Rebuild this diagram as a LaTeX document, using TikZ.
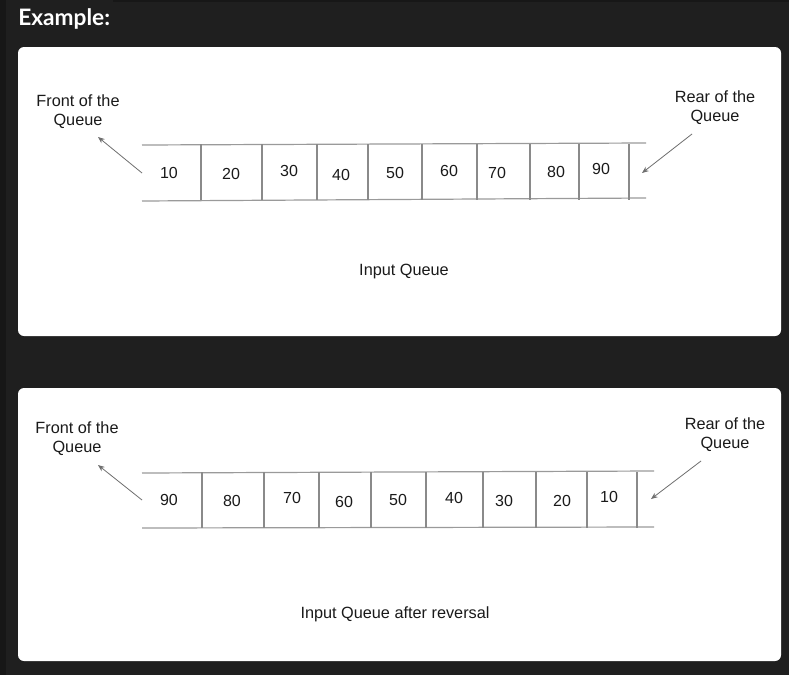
\documentclass[tikz,border=0pt]{standalone}
\usepackage{fontspec}
\setmainfont{Liberation Sans}
\newfontfamily\headfont{Lato}
\usetikzlibrary{arrows.meta}
\definecolor{bgdark}{HTML}{1F1F1F}
\definecolor{bgdarker}{HTML}{171717}
\definecolor{qline}{HTML}{9A9A9A}
\definecolor{qdiv}{HTML}{8A8A8A}
\definecolor{arrowgray}{HTML}{6E6E6E}
\definecolor{txt}{HTML}{1A1A1A}
\tikzset{
  card/.style={fill=white, draw=none, rounded corners=4.5pt},
  qedge/.style={draw=qline, line width=0.9pt},
  qdivider/.style={draw=qdiv, line width=0.9pt},
  num/.style={text=txt, font=\fontsize{12pt}{13pt}\selectfont, inner sep=0pt},
  lab/.style={text=txt, font=\fontsize{12.2pt}{14.4pt}\selectfont, align=center, inner sep=0pt},
  ptr/.style={draw=arrowgray, line width=0.6pt, -{Stealth[length=5pt,width=4pt]}},
}
\begin{document}
\begin{tikzpicture}[x=0.75pt,y=-0.75pt]
\useasboundingbox (0,0) rectangle (789,675);
% background
\fill[bgdark] (0,0) rectangle (789,675);
\fill[bgdarker] (0,0) rectangle (6,675);
\fill[bgdarker] (113,0) rectangle (789,2);
% heading
\node[anchor=base west, inner sep=0pt, text=white, font=\headfont\bfseries\fontsize{17pt}{19pt}\selectfont] (title) at (18,25.5) {Example:};
% cards
\path[card] (18,47) rectangle (781,336);
\path[card] (18,388) rectangle (781,661);

% ---------- top queue ----------
\coordinate (t1l) at (142,145); \coordinate (t1r) at (646,143);
\coordinate (b1l) at (142,201); \coordinate (b1r) at (646,198);
\draw[qedge] (t1l) -- (t1r);
\draw[qedge] (b1l) -- (b1r);
\foreach \x in {201,262,317,368,422,477,530,579,629}{
  \draw[qdivider] (\x,144) -- (\x,200);
}
\node[num] (a1) at (169,172.5) {10};
\node[num] (a2) at (231,173.5) {20};
\node[num] (a3) at (289,170.5) {30};
\node[num] (a4) at (341,174.5) {40};
\node[num] (a5) at (395,172.5) {50};
\node[num] (a6) at (449,170.5) {60};
\node[num] (a7) at (497,172.5) {70};
\node[num] (a8) at (556,171.5) {80};
\node[num] (a9) at (601,168.5) {90};

\node[lab] (front1) at (78,111.5) {Front of the\\Queue};
\node[lab] (rear1) at (715,108) {Rear of the\\Queue};
\coordinate (f1s) at (142,173); \coordinate (f1e) at (98,137);
\coordinate (r1s) at (692,134); \coordinate (r1e) at (642,173);
\draw[ptr] (f1s) -- (f1e);
\draw[ptr] (r1s) -- (r1e);
\node[lab] (cap1) at (404,272) {Input Queue};

% ---------- bottom queue ----------
\coordinate (t2l) at (142,473); \coordinate (t2r) at (654,471);
\coordinate (b2l) at (142,528); \coordinate (b2r) at (654,527);
\draw[qedge] (t2l) -- (t2r);
\draw[qedge] (b2l) -- (b2r);
\foreach \x in {202,264,319,371,426,483,536,587,637}{
  \draw[qdivider] (\x,472) -- (\x,528);
}
\node[num] (c1) at (169,499.5) {90};
\node[num] (c2) at (232,500.5) {80};
\node[num] (c3) at (292,497.5) {70};
\node[num] (c4) at (344,501.5) {60};
\node[num] (c5) at (398,499.5) {50};
\node[num] (c6) at (454,497.5) {40};
\node[num] (c7) at (504,500.5) {30};
\node[num] (c8) at (562,500.5) {20};
\node[num] (c9) at (609,496.5) {10};

\node[lab] (front2) at (77,438.5) {Front of the\\Queue};
\node[lab] (rear2) at (725,435) {Rear of the\\Queue};
\coordinate (f2s) at (142,500); \coordinate (f2e) at (98,465);
\coordinate (r2s) at (701,461); \coordinate (r2e) at (651,499);
\draw[ptr] (f2s) -- (f2e);
\draw[ptr] (r2s) -- (r2e);
\node[lab] (cap2) at (395,614) {Input Queue after reversal};
\end{tikzpicture}
\end{document}
